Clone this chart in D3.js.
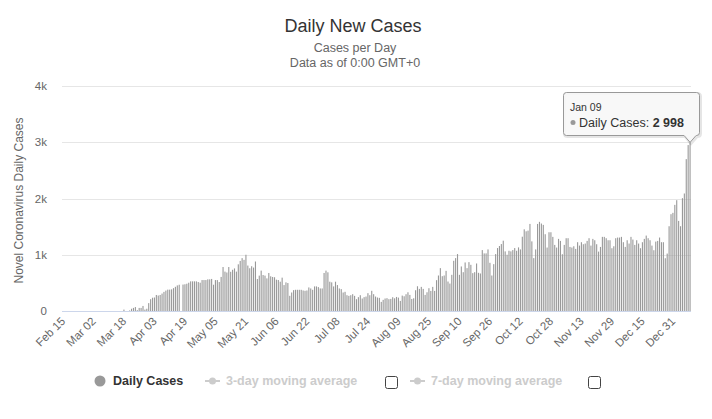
<!DOCTYPE html>
<html>
<head>
<meta charset="utf-8">
<script src="https://cdn.jsdelivr.net/npm/d3@7"></script>
<style>
  body { margin: 0; background: #fff; }
  svg { font-family: "Liberation Sans", Arial, Helvetica, sans-serif; }
</style>
</head>
<body>
<svg id="chart" width="712" height="419"></svg>
<script>
/* 데이터: 2020-02-15 ~ 2021-01-09 일별 신규 확진 */
const startDay = new Date(2020, 1, 15);
const endDay = new Date(2021, 0, 9);
const days = d3.timeDay.range(startDay, d3.timeDay.offset(endDay, 1));

const dailyCases = [
  0, 0, 0, 0, 0, 0, 0, 0, 0, 0, 0, 0, 0, 0, 0, 0, 0, 0, 0, 0,
  0, 0, 0, 0, 0, 0, 0, 0, 0, 0, 0, 0, 25, 0, 0, 10, 40, 55, 70, 15,
  55, 55, 90, 25, 40, 140, 210, 236, 240, 285, 275, 285, 310, 340, 363, 380, 380, 385, 406, 430,
  455, 467, 0, 470, 475, 485, 503, 527, 527, 527, 527, 515, 503, 550, 550, 550, 563, 563, 570, 467,
  550, 550, 515, 606, 782, 700, 685, 782, 697, 733, 757, 700, 830, 890, 940, 909, 1000, 808, 760, 796,
  772, 880, 569, 629, 718, 640, 629, 580, 676, 617, 605, 600, 557, 551, 521, 593, 461, 509, 497, 270,
  329, 371, 377, 377, 377, 377, 365, 359, 365, 419, 401, 377, 437, 437, 425, 401, 401, 676, 718, 688,
  521, 509, 437, 521, 461, 401, 389, 329, 341, 281, 269, 281, 299, 269, 210, 246, 281, 222, 246, 257,
  317, 281, 359, 299, 257, 240, 234, 162, 198, 222, 228, 210, 215, 245, 226, 250, 238, 179, 274, 262,
  298, 333, 286, 214, 226, 369, 440, 393, 429, 393, 286, 333, 405, 357, 429, 357, 548, 631, 762, 619,
  631, 714, 524, 488, 643, 893, 940, 1012, 643, 792, 690, 863, 762, 869, 821, 673, 690, 845, 679, 667,
  1083, 1024, 1024, 1095, 857, 631, 833, 1012, 1119, 1155, 1190, 1250, 1060, 1000, 1071, 1060, 1083, 1119, 1071, 1131,
  1095, 1321, 1452, 1417, 1429, 1548, 1238, 940, 1095, 1548, 1585, 1555, 1531, 1365, 1128, 1400, 1400, 1318, 1175, 1128,
  1282, 1246, 1009, 1175, 1294, 1294, 1139, 1128, 1151, 1104, 1223, 1163, 1223, 1187, 1199, 1246, 1294, 1163, 1282, 1258,
  1187, 1056, 1139, 1318, 1318, 1294, 1258, 1258, 1116, 1151, 1294, 1306, 1306, 1318, 1223, 1139, 1258, 1199, 1318, 1270,
  1175, 1258, 1199, 1116, 1223, 1282, 1341, 1294, 1258, 1163, 1080, 1234, 1246, 1306, 1223, 1223, 938, 1021, 1507, 1721,
  1745, 1887, 1970, 1602, 1507, 2006, 2089, 2700, 2950, 2998
];

const xTickLabels = ["Feb 15", "Mar 02", "Mar 18", "Apr 03", "Apr 19", "May 05", "May 21",
  "Jun 06", "Jun 22", "Jul 08", "Jul 24", "Aug 09", "Aug 25", "Sep 10", "Sep 26", "Oct 12",
  "Oct 28", "Nov 13", "Nov 29", "Dec 15", "Dec 31"];
const yTicks = [0, 1000, 2000, 3000, 4000];
const yTickLabels = ["0", "1k", "2k", "3k", "4k"];
const legendItems = ["Daily Cases", "3-day moving average", "7-day moving average"];
const tooltipDate = "Jan 09";
const tooltipValue = "2 998";

const fmt = d3.timeFormat("%b %d");
const cats = days.map(fmt);

const svg = d3.select("#chart");
const pL = 62, pR = 691, pT = 86, pB = 311;

const x = d3.scaleBand().domain(cats).range([pL, pR]).paddingInner(0.42).paddingOuter(0.2);
const y = d3.scaleLinear().domain([0, 4000]).range([pB, pT]);

/* 제목 */
svg.append("text").attr("x", 353).attr("y", 32).attr("text-anchor", "middle")
  .attr("font-size", 18).attr("fill", "#333").text("Daily New Cases");
svg.append("text").attr("x", 355).attr("y", 52).attr("text-anchor", "middle")
  .attr("font-size", 12.5).attr("fill", "#666").text("Cases per Day");
svg.append("text").attr("x", 355).attr("y", 67).attr("text-anchor", "middle")
  .attr("font-size", 12.5).attr("fill", "#666").text("Data as of 0:00 GMT+0");

/* 그리드 + y축 */
const gy = svg.append("g");
gy.selectAll("line").data(yTicks).join("line")
  .attr("x1", pL).attr("x2", pR)
  .attr("y1", (d) => Math.round(y(d)) + 0.5).attr("y2", (d) => Math.round(y(d)) + 0.5)
  .attr("stroke", (d) => (d === 0 ? "#ccd6eb" : "#e6e6e6"));
gy.selectAll("text").data(yTicks).join("text")
  .attr("x", 47).attr("y", (d) => y(d) + 4).attr("text-anchor", "end")
  .attr("font-size", 11.5).attr("fill", "#666").text((d, i) => yTickLabels[i]);

svg.append("text")
  .attr("transform", `translate(23,${(pT + pB) / 2 + 2}) rotate(-90)`)
  .attr("text-anchor", "middle").attr("font-size", 12).attr("fill", "#666")
  .text("Novel Coronavirus Daily Cases");

/* 막대 */
svg.append("g").selectAll("rect").data(dailyCases).join("rect")
  .attr("x", (d, i) => x(cats[i]))
  .attr("width", x.bandwidth())
  .attr("y", (d) => y(d))
  .attr("height", (d) => pB - y(d))
  .attr("fill", "#999");

/* x축 라벨 */
svg.append("g").selectAll("text").data(xTickLabels).join("text")
  .attr("transform", (d) => `translate(${x(d) + x.bandwidth() / 2 + 3},${pB + 11}) rotate(-45)`)
  .attr("text-anchor", "end").attr("font-size", 11.5).attr("fill", "#666").text((d) => d);

/* 범례 */
const lg = svg.append("g").attr("font-size", 12.5);
lg.append("circle").attr("cx", 100).attr("cy", 381).attr("r", 5.5).attr("fill", "#999");
lg.append("text").attr("x", 113).attr("y", 385).attr("font-weight", "bold").attr("fill", "#333").text(legendItems[0]);

[[205, 226, 385], [410, 431, 588]].forEach(([sx, tx, bx], k) => {
  lg.append("line").attr("x1", sx).attr("x2", sx + 15).attr("y1", 381).attr("y2", 381)
    .attr("stroke", "#ccc").attr("stroke-width", 2);
  lg.append("circle").attr("cx", sx + 7.5).attr("cy", 381).attr("r", 3.5).attr("fill", "#ccc");
  lg.append("text").attr("x", tx).attr("y", 385).attr("font-weight", "bold").attr("fill", "#ccc")
    .text(legendItems[k + 1]);
  lg.append("rect").attr("x", bx + 0.5).attr("y", 376.5).attr("width", 12).attr("height", 12)
    .attr("rx", 2).attr("fill", "#fff").attr("stroke", "#444");
});

/* 툴팁 (마지막 막대) */
const last = dailyCases.length - 1;
const ax = x(cats[last]) + x.bandwidth() / 2, ay = y(dailyCases[last]);
const bx0 = 563.5, bx1 = 699.5, by0 = 92.5, by1 = 135.5;
const tip = svg.append("g");
const tipPath = `M${bx0 + 3},${by0} H${bx1 - 3} Q${bx1},${by0} ${bx1},${by0 + 3} V${by1 - 3}
  Q${bx1},${by1} ${bx1 - 3},${by1} H${ax + 6} L${ax},${ay} L${ax - 6},${by1} H${bx0 + 3}
  Q${bx0},${by1} ${bx0},${by1 - 3} V${by0 + 3} Q${bx0},${by0} ${bx0 + 3},${by0} Z`;
tip.append("path").attr("d", tipPath).attr("transform", "translate(1,1)")
  .attr("fill", "none").attr("stroke", "#000").attr("stroke-opacity", 0.1).attr("stroke-width", 3);
tip.append("path").attr("d", tipPath).attr("fill", "#f7f7f7").attr("fill-opacity", 0.92)
  .attr("stroke", "#999");
tip.append("text").attr("x", 570).attr("y", 111).attr("font-size", 10.5).attr("fill", "#333").text(tooltipDate);
tip.append("circle").attr("cx", 573).attr("cy", 122.5).attr("r", 2.5).attr("fill", "#999");
const tt = tip.append("text").attr("x", 579).attr("y", 127).attr("font-size", 12.5).attr("fill", "#333");
tt.append("tspan").text(legendItems[0] + ": ");
tt.append("tspan").attr("font-weight", "bold").text(tooltipValue);
</script>
</body>
</html>
